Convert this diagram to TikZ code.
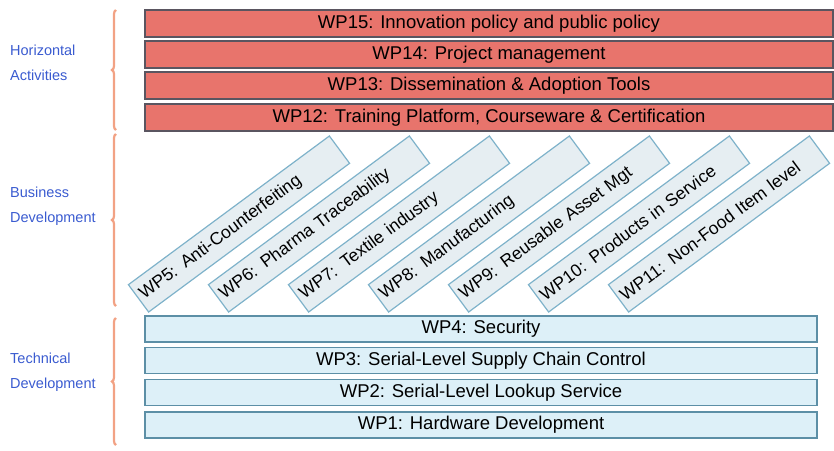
\documentclass[tikz,border=0pt]{standalone}
\usepackage{fontspec}
\setmainfont{Liberation Sans}
\usetikzlibrary{decorations.pathreplacing}
\definecolor{redfill}{HTML}{E8746C}
\definecolor{redline}{HTML}{5A5560}
\definecolor{bluefill}{HTML}{DDF0F8}
\definecolor{blueline}{HTML}{5C8FA6}
\definecolor{diagfill}{HTML}{E6EEF2}
\definecolor{diagline}{HTML}{7EB2CA}
\definecolor{labelblue}{HTML}{3A5BD0}
\definecolor{bracecol}{HTML}{F2A284}
\tikzset{
  redbar/.style={draw=redline, fill=redfill, line width=1.2pt, minimum width=688pt, minimum height=27pt, inner sep=0pt, font=\fontsize{18.5}{20}\selectfont},
  bluebar/.style={draw=blueline, fill=bluefill, line width=1.2pt, minimum width=672pt, minimum height=26pt, inner sep=0pt, font=\fontsize{18.5}{20}\selectfont},
  diagbox/.style={draw=diagline, fill=diagfill, line width=1.2pt, rotate=36.5, minimum width=250pt, text width=242pt, minimum height=34pt, inner xsep=4pt, inner ysep=0pt, align=left, font=\fontsize{17.5}{19}\selectfont},
  sidelabel/.style={text=labelblue, anchor=west, align=left, inner sep=0pt, font=\fontsize{14.5}{25}\selectfont},
  bracebar/.style={draw=bracecol, line width=2.2pt, decorate, decoration={brace, amplitude=4pt}}
}
\begin{document}
\begin{tikzpicture}[x=1pt, y=-1pt]
\useasboundingbox (0,0) rectangle (834,450);
% red bars
\node[redbar] (wp15) at (489,23.5) {WP15: Innovation policy and public policy};
\node[redbar] (wp14) at (489,54.5) {WP14: Project management};
\node[redbar] (wp13) at (489,85.5) {WP13: Dissemination \& Adoption Tools};
\node[redbar] (wp12) at (489,117.5) {WP12: Training Platform, Courseware \& Certification};
% diagonal boxes
\node[diagbox] (wp5) at (239,224) {WP5: Anti-Counterfeiting};
\node[diagbox] (wp6) at (319,224) {WP6: Pharma Traceability};
\node[diagbox] (wp7) at (399,224) {WP7: Textile industry};
\node[diagbox] (wp8) at (479,224) {WP8: Manufacturing};
\node[diagbox] (wp9) at (559,224) {WP9: Reusable Asset Mgt};
\node[diagbox] (wp10) at (639,224) {WP10: Products in Service};
\node[diagbox] (wp11) at (719,224) {WP11: Non-Food Item level};
% blue bars
\node[bluebar] (wp4) at (481,329) {WP4: Security};
\node[bluebar] (wp3) at (481,360.5) {WP3: Serial-Level Supply Chain Control};
\node[bluebar] (wp2) at (481,392.5) {WP2: Serial-Level Lookup Service};
\node[bluebar] (wp1) at (481,425) {WP1: Hardware Development};
% braces
\coordinate (b1t) at (116,10);
\coordinate (b1b) at (116,130);
\coordinate (b2t) at (116,134);
\coordinate (b2b) at (116,306);
\coordinate (b3t) at (116,318);
\coordinate (b3b) at (116,445);
\draw[bracebar] (b1b) -- (b1t);
\draw[bracebar] (b2b) -- (b2t);
\draw[bracebar] (b3b) -- (b3t);
% side labels
\node[sidelabel] (lab1) at (10,63) {Horizontal\\Activities};
\node[sidelabel] (lab2) at (10,206) {Business\\Development};
\node[sidelabel] (lab3) at (10,372) {Technical\\Development};
\end{tikzpicture}
\end{document}
